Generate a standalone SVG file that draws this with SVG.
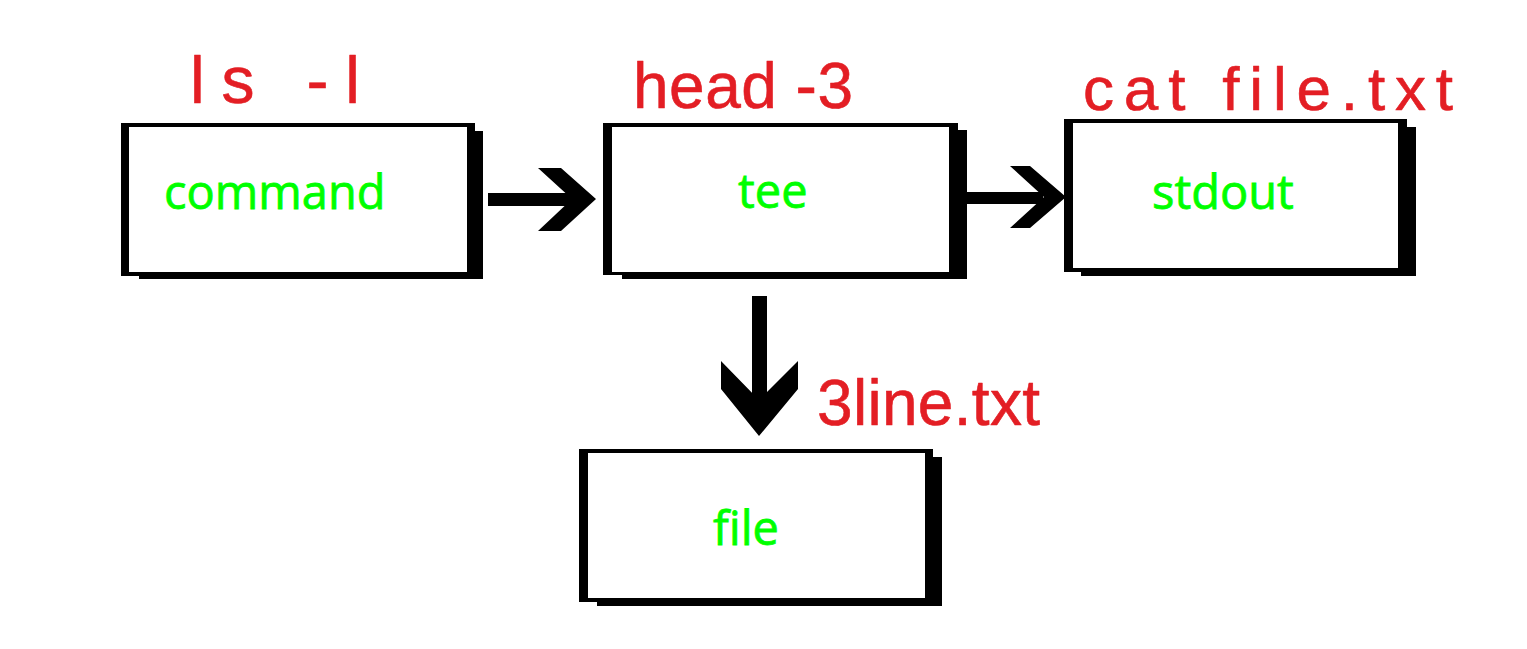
<svg xmlns="http://www.w3.org/2000/svg" width="1527" height="649" viewBox="0 0 1527 649">
<style>
.shadow{fill:#000}
.outer{fill:#000}
.inner{fill:#fff}
.label{font-family:"Open Sans","Noto Sans",sans-serif;font-size:47px;fill:#00ff00;stroke:#00ff00;stroke-width:0.8}
.hand{font-family:"Liberation Sans",Arial,sans-serif;font-weight:normal;fill:#e31e24;stroke:#e31e24;stroke-width:0.6;stroke-linejoin:round}
.arrow{fill:#000}
</style>
<rect x="0" y="0" width="1527" height="649" fill="#fff"/>
<g id="connectors">
  <g id="a-command-tee">
    <rect class="arrow" x="488" y="193" width="86" height="13"/>
    <polygon class="arrow" points="538,168 561,168 596,199 561,231 538,231 572,199"/>
  </g>
  <g id="a-tee-stdout">
    <rect class="arrow" x="963" y="192" width="80" height="12"/>
    <polygon class="arrow" points="1010,166 1030,166 1066,197 1030,228 1010,228 1044,197"/>
  </g>
  <g id="a-tee-file">
    <rect class="arrow" x="752" y="296" width="15" height="106"/>
    <polygon class="arrow" points="721,361 759,400 798,361 798,389 759,436 721,389"/>
  </g>
</g>
<g id="node-command">
  <rect class="shadow" x="139" y="131" width="344" height="148"/>
  <rect class="outer" x="121" y="123" width="354" height="153"/>
  <rect class="inner" x="129" y="127" width="338" height="145"/>
  <text class="label" x="164" y="209">command</text>
</g>
<g id="node-tee">
  <rect class="shadow" x="622" y="130" width="345" height="149"/>
  <rect class="outer" x="603" y="123" width="355" height="152"/>
  <rect class="inner" x="612" y="127" width="337" height="145"/>
  <text class="label" x="738" y="208">tee</text>
</g>
<g id="node-stdout">
  <rect class="shadow" x="1081" y="127" width="335" height="149"/>
  <rect class="outer" x="1064" y="119" width="343" height="153"/>
  <rect class="inner" x="1073" y="123" width="325" height="145"/>
  <text class="label" x="1152" y="209">stdout</text>
</g>
<g id="node-file">
  <rect class="shadow" x="597" y="457" width="345" height="149"/>
  <rect class="outer" x="579" y="449" width="354" height="153"/>
  <rect class="inner" x="588" y="453" width="337" height="145"/>
  <text class="label" x="713" y="545">file</text>
</g>
<g id="annotations">
  <text class="hand" x="190" y="103" font-size="66" textLength="170" lengthAdjust="spacing">ls  -l</text>
  <text class="hand" x="633" y="108" font-size="64" textLength="220" lengthAdjust="spacing">head -3</text>
  <text class="hand" x="1083" y="110" font-size="62" textLength="370" lengthAdjust="spacing">cat  file.txt</text>
  <text class="hand" x="817" y="425" font-size="64" textLength="223" lengthAdjust="spacing">3line.txt</text>
</g>
</svg>
